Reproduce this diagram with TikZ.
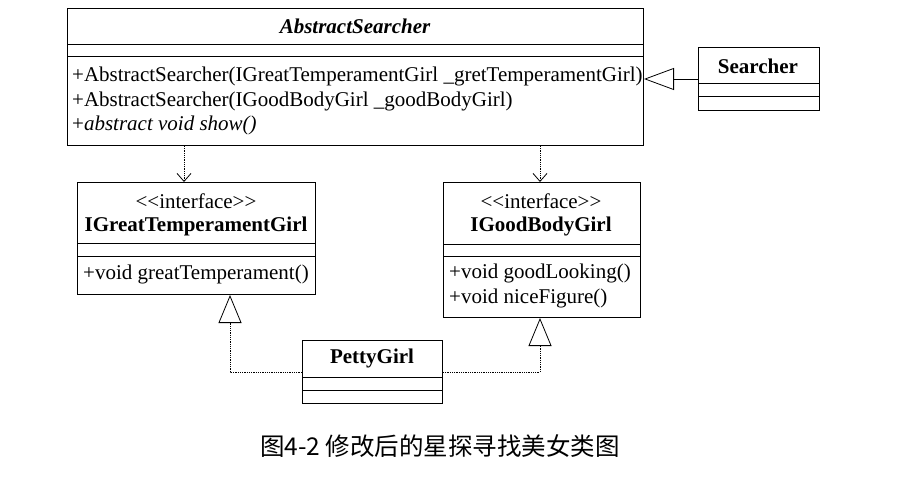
\documentclass[tikz,border=0pt]{standalone}
\usepackage{fontspec}
\setmainfont{Liberation Serif}
\newfontfamily\cjkfont{Noto Sans CJK SC}
\usetikzlibrary{arrows.meta}
\usetikzlibrary{positioning}

\begin{document}
\begin{tikzpicture}[x=1pt, y=-1pt,
    box/.style={draw, line width=1pt, anchor=north west, inner sep=0pt},
    txt/.style={font=\fontsize{21}{24}\selectfont, inner sep=0pt},
    mth/.style={txt, anchor=west},
    cls/.style={txt, font=\fontsize{21}{24}\selectfont\bfseries},
    dep/.style={densely dotted, line width=0.8pt, -{Straight Barb[length=8pt,width=14pt]}},
    real/.style={densely dotted, line width=0.8pt, -{Triangle[open, length=28pt, width=23pt, fill=white]}},
    gen/.style={line width=0.8pt, -{Triangle[open, length=30pt, width=22pt, fill=white]}}]
  \useasboundingbox (0,0) rectangle (899,489);
  % AbstractSearcher
  \node[box, minimum width=576pt, minimum height=137pt] (abs) at (67,8) {};
  \draw[line width=1pt] (67,45) -- (643,45) (67,57) -- (643,57);
  \node[cls, font=\fontsize{21}{24}\selectfont\bfseries\itshape] (absname) at (355,26) {AbstractSearcher};
  \node[mth] (m1) at (72,76) {+AbstractSearcher(IGreatTemperamentGirl \_gretTemperamentGirl)};
  \node[mth] (m2) at (72,101) {+AbstractSearcher(IGoodBodyGirl \_goodBodyGirl)};
  \node[mth] (m3) at (72,125) {+\textit{abstract void show()}};
  % Searcher
  \node[box, minimum width=121pt, minimum height=63pt] (sr) at (698,47) {};
  \draw[line width=1pt] (698,84) -- (819,84) (698,97) -- (819,97);
  \node[cls] (srname) at (758,66) {Searcher};
  % IGreatTemperamentGirl
  \node[box, minimum width=238pt, minimum height=112pt] (gtg) at (77,182) {};
  \draw[line width=1pt] (77,243) -- (315,243) (77,256) -- (315,256);
  \node[txt] (gtgst) at (196,201) {\textless\kern0pt\textless interface\textgreater\kern0pt\textgreater};
  \node[cls] (gtgname) at (196,226) {IGreatTemperamentGirl};
  \node[mth] (gtgm1) at (83,274) {+void greatTemperament()};
  % IGoodBodyGirl
  \node[box, minimum width=197pt, minimum height=135pt] (gbg) at (443,182) {};
  \draw[line width=1pt] (443,244) -- (640,244) (443,256) -- (640,256);
  \node[txt] (gbgst) at (541,201) {\textless\kern0pt\textless interface\textgreater\kern0pt\textgreater};
  \node[cls] (gbgname) at (541,226) {IGoodBodyGirl};
  \node[mth] (gbgm1) at (449,273) {+void goodLooking()};
  \node[mth] (gbgm2) at (449,298) {+void niceFigure()};
  % PettyGirl
  \node[box, minimum width=140pt, minimum height=63pt] (pg) at (302,340) {};
  \draw[line width=1pt] (302,377) -- (442,377) (302,390) -- (442,390);
  \node[cls] (pgname) at (372,358) {PettyGirl};
  % connectors
  \coordinate (d1) at (184,0);
  \coordinate (d2) at (540,0);
  \coordinate (r1) at (230,0);
  \draw[dep] (abs.south -| d1) -- (gtg.north -| d1);
  \draw[dep] (abs.south -| d2) -- (gbg.north -| d2);
  \draw[real] (pg.west) -| (gtg.south -| r1);
  \draw[real] (pg.east) -| (gbg.south -| d2);
  \draw[gen] (sr.west) -- (sr.west -| abs.east);
  % caption
  \node[font=\cjkfont\fontsize{24.5}{28}\selectfont, inner sep=0pt] (cap) at (440,446) {图4-2 修改后的星探寻找美女类图};
\end{tikzpicture}
\end{document}
